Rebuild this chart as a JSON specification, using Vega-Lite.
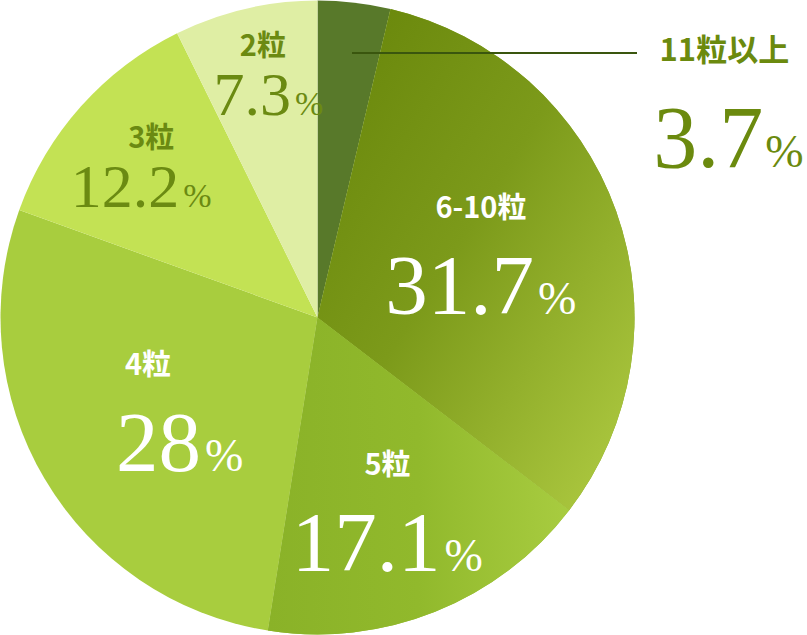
{
  "$schema": "https://vega.github.io/schema/vega-lite/v6.json",
  "width": 635,
  "height": 635,
  "autosize": {"type": "none"},
  "padding": {"left": 0, "top": 0, "right": 172, "bottom": 0},
  "background": "white",
  "config": {"view": {"stroke": null}},
  "data": {
    "values": [
      {"cat": "11粒以上", "pct": 3.7, "order": 1},
      {"cat": "6-10粒", "pct": 31.7, "order": 2},
      {"cat": "5粒", "pct": 17.1, "order": 3},
      {"cat": "4粒", "pct": 28, "order": 4},
      {"cat": "3粒", "pct": 12.2, "order": 5},
      {"cat": "2粒", "pct": 7.3, "order": 6}
    ]
  },
  "transform": [
    {"stack": "pct", "groupby": [], "sort": [{"field": "order", "order": "ascending"}], "as": ["t0", "t1"]},
    {"calculate": "(datum.t0 + datum.t1) / 2", "as": "mid"}
  ],
  "layer": [
    {
      "mark": {"type": "arc", "outerRadius": 317, "strokeWidth": 0},
      "encoding": {
        "theta": {"field": "t0", "type": "quantitative", "stack": null, "scale": {"domain": [0, 100]}},
        "theta2": {"field": "t1"},
        "color": {
          "field": "cat", "type": "nominal", "legend": null,
          "scale": {
            "domain": ["11粒以上", "6-10粒", "5粒", "4粒", "3粒", "2粒"],
            "range": ["#58792a", "#86a624", "#95bb30", "#a8cd3e", "#c3e254", "#dfeea4"]
          }
        }
      }
    },
    {
      "transform": [{"filter": "datum.cat === '6-10粒'"}],
      "mark": {
        "type": "arc", "outerRadius": 317, "strokeWidth": 0,
        "fill": {
          "gradient": "linear", "x1": 0, "y1": 0.15, "x2": 0.85, "y2": 1,
          "stops": [
            {"offset": 0, "color": "#6a880c"},
            {"offset": 0.45, "color": "#7c9a1a"},
            {"offset": 1, "color": "#aac63e"}
          ]
        }
      },
      "encoding": {
        "theta": {"field": "t0", "type": "quantitative", "stack": null, "scale": {"domain": [0, 100]}},
        "theta2": {"field": "t1"}
      }
    },
    {
      "transform": [{"filter": "datum.cat === '5粒'"}],
      "mark": {
        "type": "arc", "outerRadius": 317, "strokeWidth": 0,
        "fill": {
          "gradient": "linear", "x1": 0, "y1": 0.5, "x2": 1, "y2": 0.5,
          "stops": [
            {"offset": 0, "color": "#8ab228"},
            {"offset": 0.5, "color": "#91b92c"},
            {"offset": 1, "color": "#a8cc40"}
          ]
        }
      },
      "encoding": {
        "theta": {"field": "t0", "type": "quantitative", "stack": null, "scale": {"domain": [0, 100]}},
        "theta2": {"field": "t1"}
      }
    },
    {
      "data": {"values": [{}]},
      "mark": {"type": "rule", "color": "#3a560e", "strokeWidth": 2},
      "encoding": {
        "x": {"value": 352},
        "x2": {"value": 637},
        "y": {"value": 53}
      }
    },
    {
      "transform": [{"filter": "datum.pct > 15"}],
      "mark": {"type": "text", "font": "Noto Sans CJK JP", "fontWeight": "bold", "fontSize": 29, "color": "white", "align": "center", "baseline": "middle", "dx": -8, "dy": -47},
      "encoding": {
        "theta": {"field": "mid", "type": "quantitative", "stack": null, "scale": {"domain": [0, 100]}},
        "radius": {"field": "pct", "type": "quantitative", "scale": {"type": "log", "domain": [7.3, 31.7], "range": [249, 182]}},
        "text": {"field": "cat", "type": "nominal"}
      }
    },
    {
      "transform": [{"filter": "datum.pct > 15"}],
      "mark": {"type": "text", "font": "Liberation Serif", "fontSize": 85, "color": "white", "align": "right", "baseline": "alphabetic", "dx": 45, "dy": 58},
      "encoding": {
        "theta": {"field": "mid", "type": "quantitative", "stack": null, "scale": {"domain": [0, 100]}},
        "radius": {"field": "pct", "type": "quantitative", "scale": {"type": "log", "domain": [7.3, 31.7], "range": [249, 182]}},
        "text": {"field": "pct", "type": "nominal"}
      }
    },
    {
      "transform": [{"filter": "datum.pct > 15"}],
      "mark": {"type": "text", "font": "Liberation Serif", "fontSize": 46, "color": "white", "align": "left", "baseline": "alphabetic", "dx": 49, "dy": 58, "text": "%"},
      "encoding": {
        "theta": {"field": "mid", "type": "quantitative", "stack": null, "scale": {"domain": [0, 100]}},
        "radius": {"field": "pct", "type": "quantitative", "scale": {"type": "log", "domain": [7.3, 31.7], "range": [249, 182]}}
      }
    },
    {
      "transform": [{"filter": "datum.pct < 15 && datum.cat !== '11粒以上'"}],
      "mark": {"type": "text", "font": "Noto Sans CJK JP", "fontWeight": "bold", "fontSize": 29, "color": "#6b8a12", "align": "center", "baseline": "middle", "dx": 2, "dy": -28},
      "encoding": {
        "theta": {"field": "mid", "type": "quantitative", "stack": null, "scale": {"domain": [0, 100]}},
        "radius": {"field": "pct", "type": "quantitative", "scale": {"type": "log", "domain": [7.3, 31.7], "range": [249, 182]}},
        "text": {"field": "cat", "type": "nominal"}
      }
    },
    {
      "transform": [{"filter": "datum.pct < 15 && datum.cat !== '11粒以上'"}],
      "mark": {"type": "text", "font": "Liberation Serif", "fontSize": 62, "color": "#6b8a12", "align": "right", "baseline": "alphabetic", "dx": 30, "dy": 40},
      "encoding": {
        "theta": {"field": "mid", "type": "quantitative", "stack": null, "scale": {"domain": [0, 100]}},
        "radius": {"field": "pct", "type": "quantitative", "scale": {"type": "log", "domain": [7.3, 31.7], "range": [249, 182]}},
        "text": {"field": "pct", "type": "nominal"}
      }
    },
    {
      "transform": [{"filter": "datum.pct < 15 && datum.cat !== '11粒以上'"}],
      "mark": {"type": "text", "font": "Liberation Serif", "fontSize": 34, "color": "#6b8a12", "align": "left", "baseline": "alphabetic", "dx": 34, "dy": 40, "text": "%"},
      "encoding": {
        "theta": {"field": "mid", "type": "quantitative", "stack": null, "scale": {"domain": [0, 100]}},
        "radius": {"field": "pct", "type": "quantitative", "scale": {"type": "log", "domain": [7.3, 31.7], "range": [249, 182]}}
      }
    },
    {
      "transform": [{"filter": "datum.cat === '11粒以上'"}],
      "mark": {"type": "text", "font": "Noto Sans CJK JP", "fontWeight": "bold", "fontSize": 31, "color": "#6b8a0e", "align": "center", "baseline": "middle", "dx": 376, "dy": -1, "radius": 266},
      "encoding": {
        "theta": {"field": "mid", "type": "quantitative", "stack": null, "scale": {"domain": [0, 100]}},
        "text": {"field": "cat", "type": "nominal"}
      }
    },
    {
      "transform": [{"filter": "datum.cat === '11粒以上'"}],
      "mark": {"type": "text", "font": "Liberation Serif", "fontSize": 88, "color": "#6b8a0e", "align": "right", "baseline": "alphabetic", "dx": 415, "dy": 114, "radius": 266},
      "encoding": {
        "theta": {"field": "mid", "type": "quantitative", "stack": null, "scale": {"domain": [0, 100]}},
        "text": {"field": "pct", "type": "nominal"}
      }
    },
    {
      "transform": [{"filter": "datum.cat === '11粒以上'"}],
      "mark": {"type": "text", "font": "Liberation Serif", "fontSize": 46, "color": "#6b8a0e", "align": "left", "baseline": "alphabetic", "dx": 417, "dy": 114, "radius": 266, "text": "%"},
      "encoding": {
        "theta": {"field": "mid", "type": "quantitative", "stack": null, "scale": {"domain": [0, 100]}}
      }
    }
  ]
}
